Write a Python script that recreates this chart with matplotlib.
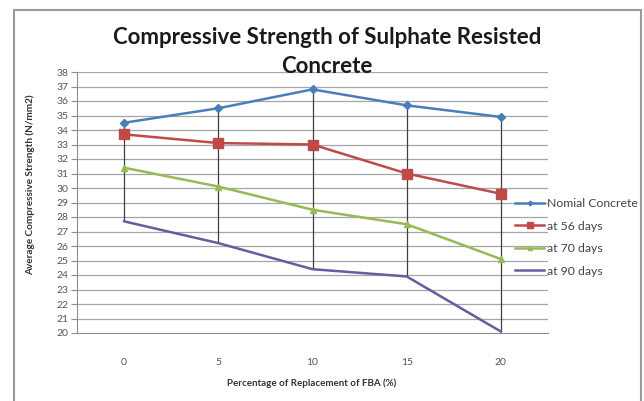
import numpy as np
import matplotlib.pyplot as plt
from matplotlib.patches import Rectangle

plt.rcParams["font.family"] = ["Lato", "DejaVu Sans"]

categories = ["0", "5", "10", "15", "20"]
normal = [34.5, 35.5, 36.8, 35.7, 34.9]
d56 = [33.7, 33.1, 33.0, 31.0, 29.6]
d70 = [31.4, 30.1, 28.5, 27.5, 25.1]
d90 = [27.7, 26.2, 24.4, 23.9, 20.1]
names = ["Nomial Concrete", "at 56 days", "at 70 days", "at 90 days"]

W, H = 644, 401
fig = plt.figure(figsize=(W/100, H/100), dpi=100)
fig.patches.append(Rectangle((14/W, -0.01), (641-14)/W, 1-10/H+0.01, transform=fig.transFigure,
                             fill=False, edgecolor="#9a9a9a", linewidth=1.5))

ax = fig.add_axes([77/W, 1-333/H, (548-77)/W, (333-72)/H])
x = np.arange(len(categories))
ax.set_xlim(-0.5, len(categories)-0.5)
ax.set_ylim(20, 38)
ax.set_yticks(np.arange(20, 39, 1))
ax.set_xticks(x)
ax.set_xticklabels(categories)
for yv in np.arange(21, 39, 1):
    ax.axhline(yv, color="#a6a6a6", linewidth=0.9, zorder=0)

# high-low lines
allv = np.array([normal, d56, d70, d90])
ax.vlines(x, allv.min(axis=0), allv.max(axis=0), color="#404040", linewidth=0.9, zorder=1)

ax.plot(x, normal, color="#4a7ebb", marker="D", markersize=4, linewidth=1.8, label=names[0], zorder=3)
ax.plot(x, d56, color="#be4b48", marker="s", markersize=7, linewidth=1.8, label=names[1], zorder=3)
ax.plot(x, d70, color="#98b954", marker="^", markersize=5, linewidth=1.8, label=names[2], zorder=3)
ax.plot(x, d90, color="#6a5a9e", linewidth=1.8, label=names[3], zorder=3)

for s in ["top", "right"]:
    ax.spines[s].set_visible(False)
ax.spines["left"].set_color("#8c8c8c")
ax.spines["bottom"].set_color("#8c8c8c")
ax.tick_params(axis="y", length=4, color="#8c8c8c", labelsize=7.5, labelcolor="#555555", pad=2)
ax.tick_params(axis="x", length=0, labelsize=7.5, labelcolor="#555555", pad=18)

fig.text(327/W, 1-52/H, "Compressive Strength of Sulphate Resisted\nConcrete", ha="center", va="center",
         fontsize=16, fontweight="bold", color="#1a1a1a", linespacing=1.45)
fig.text(30/W, 1-185/H, "Average Compressive Strength (N/mm2)", rotation=90, ha="center", va="center",
         fontsize=7.2, fontweight="bold", color="#333333")
fig.text(312/W, 1-383/H, "Percentage of Replacement of FBA (%)", ha="center", va="center",
         fontsize=7, fontweight="bold", color="#333333")

leg = ax.legend(loc="upper left", bbox_to_anchor=(510/W, 1-193/H), bbox_transform=fig.transFigure,
                frameon=False, fontsize=8.8, handlelength=2.4, labelspacing=0.95, handletextpad=0.2,
                borderaxespad=0, markerscale=0.6)
for t in leg.get_texts():
    t.set_color("#444444")

fig.savefig("out.png", dpi=100)
